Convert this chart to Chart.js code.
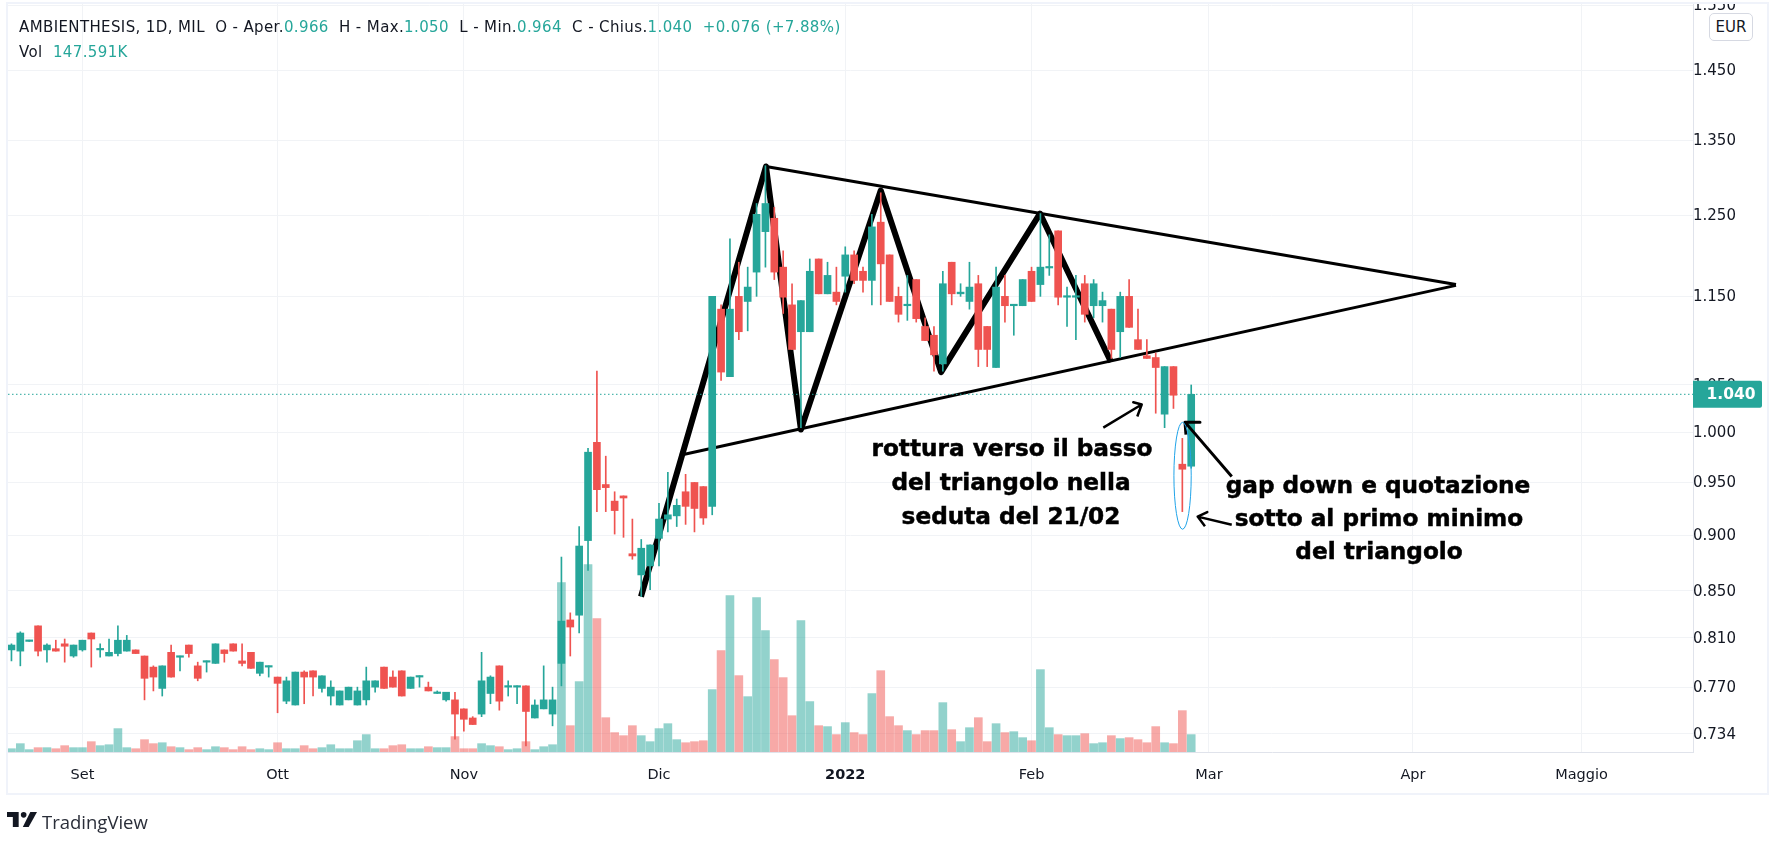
<!DOCTYPE html>
<html>
<head>
<meta charset="utf-8">
<title>AMBIENTHESIS</title>
<script src="https://cdn.jsdelivr.net/npm/chart.js@4/dist/chart.umd.min.js"></script>
<style>
  html, body { margin: 0; padding: 0; background: #fff; }
  #wrap { position: relative; width: 1790px; height: 844px; overflow: hidden; }
  canvas { position: absolute; left: 0; top: 0; }
  #topStrip { position: absolute; left: 0; top: 0; width: 1790px; height: 2px; background: #fff; }
  #frame { position: absolute; left: 6px; top: 2px; width: 1763px; height: 793px; box-sizing: border-box; border: 2px solid #f0f3fa; }
  .legend { position: absolute; left: 19px; font: 15px "DejaVu Sans", sans-serif; letter-spacing: 0.38px; color: #131722; white-space: pre; }
  .legend b { font-weight: 400; color: #26a69a; }
  #eur { position: absolute; left: 1709px; top: 13px; width: 44px; height: 28px; box-sizing: border-box; border: 1px solid #d6d9e2; border-radius: 5px; background: #fff;
         font: 15px "DejaVu Sans", sans-serif; color: #131722; text-align: center; line-height: 26px; }
  .note { position: absolute; transform: translate(-50%, -50%); font: bold 23.2px "DejaVu Sans", sans-serif; color: #000; white-space: nowrap; -webkit-text-stroke: 0.5px #000; }
  #logo { position: absolute; left: 7px; top: 812px; }
  #brand { position: absolute; left: 42px; top: 809px; font: 18.5px "Open Sans", sans-serif; color: #2a2e39; }
</style>
</head>
<body>
<div id="wrap">
  <canvas id="chart" width="1790" height="844"></canvas>
  <div id="topStrip"></div>
  <div id="frame"></div>
  <div class="legend" style="top:18px">AMBIENTHESIS, 1D, MIL  O - Aper.<b>0.966</b>  H - Max.<b>1.050</b>  L - Min.<b>0.964</b>  C - Chius.<b>1.040</b>  <b>+0.076 (+7.88%)</b></div>
  <div class="legend" style="top:43px">Vol  <b>147.591K</b></div>
  <div id="eur">EUR</div>
  <div class="note" style="left:1012px;top:447px">rottura verso il basso</div>
  <div class="note" style="left:1011px;top:481px">del triangolo nella</div>
  <div class="note" style="left:1011px;top:515px">seduta del 21/02</div>
  <div class="note" style="left:1378px;top:484px">gap down e quotazione</div>
  <div class="note" style="left:1379px;top:517px">sotto al primo minimo</div>
  <div class="note" style="left:1379px;top:550px">del triangolo</div>
  <svg id="logo" width="30" height="15" viewBox="0 0 36 18"><path d="M14 0H0v6h7v12h7z" fill="#131722"/><circle cx="20" cy="3.4" r="3.4" fill="#131722"/><path d="M26 18h-7L28 0h8z" fill="#131722"/></svg>
  <div id="brand">TradingView</div>
</div>
<script>
const opens = [
  0.800, 0.799, 0.807, 0.820, 0.800, 0.801, 0.805, 0.795, 0.800, 0.814,
  0.800, 0.795, 0.797, 0.799, 0.800, 0.795, 0.786, 0.769, 0.798, 0.794,
  0.804, 0.787, 0.790, 0.789, 0.800, 0.805, 0.791, 0.798, 0.781, 0.786,
  0.778, 0.759, 0.756, 0.782, 0.783, 0.769, 0.763, 0.756, 0.760, 0.756,
  0.760, 0.770, 0.786, 0.778, 0.783, 0.769, 0.778, 0.770, 0.765, 0.760,
  0.760, 0.753, 0.746, 0.749, 0.765, 0.787, 0.770, 0.770, 0.771, 0.746,
  0.753, 0.749, 0.789, 0.825, 0.829, 0.895, 0.990, 0.948, 0.932, 0.937,
  0.883, 0.864, 0.872, 0.897, 0.915, 0.918, 0.941, 0.950, 0.946, 0.927,
  1.135, 1.059, 1.150, 1.144, 1.179, 1.229, 1.246, 1.185, 1.140, 1.109,
  1.109, 1.195, 1.153, 1.155, 1.174, 1.200, 1.180, 1.169, 1.241, 1.200,
  1.150, 1.139, 1.170, 1.115, 1.105, 1.073, 1.191, 1.153, 1.144, 1.165,
  1.115, 1.069, 1.150, 1.139, 1.139, 1.180, 1.164, 1.184, 1.230, 1.149,
  1.149, 1.165, 1.139, 1.139, 1.135, 1.109, 1.150, 1.100, 1.082, 1.080,
  1.019, 1.070, 0.968, 0.966
];
const highs = [
  0.805, 0.815, 0.808, 0.820, 0.805, 0.808, 0.809, 0.804, 0.808, 0.814,
  0.805, 0.809, 0.820, 0.812, 0.800, 0.795, 0.787, 0.787, 0.804, 0.795,
  0.804, 0.790, 0.791, 0.805, 0.800, 0.805, 0.805, 0.798, 0.790, 0.787,
  0.778, 0.778, 0.782, 0.783, 0.783, 0.779, 0.775, 0.767, 0.770, 0.770,
  0.786, 0.775, 0.786, 0.783, 0.783, 0.778, 0.779, 0.774, 0.767, 0.766,
  0.766, 0.753, 0.747, 0.798, 0.779, 0.787, 0.775, 0.771, 0.771, 0.760,
  0.787, 0.770, 0.880, 0.831, 0.908, 0.984, 1.065, 0.976, 0.941, 0.937,
  0.915, 0.896, 0.891, 0.930, 0.960, 0.934, 0.958, 0.950, 0.946, 1.150,
  1.140, 1.220, 1.191, 1.185, 1.265, 1.315, 1.260, 1.205, 1.165, 1.145,
  1.195, 1.195, 1.191, 1.185, 1.210, 1.205, 1.185, 1.251, 1.279, 1.200,
  1.161, 1.175, 1.170, 1.125, 1.115, 1.180, 1.191, 1.165, 1.191, 1.175,
  1.115, 1.185, 1.175, 1.140, 1.170, 1.185, 1.252, 1.225, 1.230, 1.161,
  1.175, 1.175, 1.170, 1.155, 1.135, 1.155, 1.170, 1.135, 1.100, 1.085,
  1.070, 1.070, 0.994, 1.050
];
const lows = [
  0.791, 0.787, 0.807, 0.795, 0.790, 0.799, 0.790, 0.794, 0.799, 0.786,
  0.794, 0.795, 0.795, 0.799, 0.797, 0.760, 0.767, 0.763, 0.778, 0.783,
  0.794, 0.775, 0.782, 0.789, 0.790, 0.799, 0.787, 0.785, 0.779, 0.778,
  0.750, 0.757, 0.756, 0.757, 0.763, 0.766, 0.756, 0.756, 0.760, 0.756,
  0.756, 0.766, 0.769, 0.770, 0.763, 0.769, 0.770, 0.767, 0.765, 0.759,
  0.730, 0.736, 0.741, 0.747, 0.757, 0.752, 0.763, 0.757, 0.725, 0.746,
  0.753, 0.740, 0.771, 0.795, 0.814, 0.868, 0.922, 0.922, 0.901, 0.898,
  0.878, 0.845, 0.851, 0.872, 0.903, 0.908, 0.910, 0.903, 0.910, 0.919,
  1.055, 1.059, 1.100, 1.110, 1.150, 1.185, 1.170, 1.130, 1.089, 1.005,
  1.109, 1.153, 1.153, 1.140, 1.155, 1.165, 1.155, 1.140, 1.140, 1.144,
  1.120, 1.122, 1.120, 1.099, 1.065, 1.065, 1.140, 1.150, 1.135, 1.070,
  1.070, 1.069, 1.120, 1.105, 1.139, 1.144, 1.150, 1.175, 1.140, 1.115,
  1.100, 1.120, 1.125, 1.120, 1.079, 1.080, 1.114, 1.089, 1.079, 1.020,
  1.005, 1.025, 0.922, 0.964
];
const closes = [
  0.804, 0.814, 0.808, 0.799, 0.804, 0.799, 0.803, 0.804, 0.808, 0.809,
  0.801, 0.798, 0.808, 0.808, 0.797, 0.777, 0.778, 0.787, 0.778, 0.795,
  0.797, 0.777, 0.791, 0.805, 0.797, 0.799, 0.789, 0.785, 0.790, 0.787,
  0.773, 0.775, 0.782, 0.778, 0.778, 0.779, 0.770, 0.767, 0.770, 0.767,
  0.775, 0.775, 0.769, 0.770, 0.763, 0.778, 0.779, 0.767, 0.766, 0.766,
  0.749, 0.745, 0.741, 0.775, 0.778, 0.759, 0.771, 0.771, 0.751, 0.756,
  0.760, 0.760, 0.824, 0.819, 0.890, 0.980, 0.943, 0.945, 0.923, 0.935,
  0.881, 0.888, 0.891, 0.915, 0.919, 0.928, 0.927, 0.925, 0.916, 1.150,
  1.064, 1.135, 1.109, 1.161, 1.251, 1.265, 1.179, 1.149, 1.089, 1.145,
  1.180, 1.153, 1.175, 1.144, 1.200, 1.169, 1.169, 1.235, 1.189, 1.144,
  1.129, 1.140, 1.124, 1.099, 1.083, 1.165, 1.153, 1.155, 1.161, 1.089,
  1.089, 1.161, 1.139, 1.140, 1.170, 1.144, 1.185, 1.185, 1.149, 1.150,
  1.150, 1.129, 1.165, 1.145, 1.089, 1.150, 1.114, 1.089, 1.079, 1.069,
  1.070, 1.039, 0.963, 1.040
];
// volumes in thousands of shares
const volumes = [
  28, 71, 20, 37, 37, 28, 54, 37, 37, 88,
  54, 62, 199, 37, 28, 105, 71, 79, 45, 37,
  20, 37, 20, 45, 37, 20, 45, 20, 28, 20,
  79, 28, 28, 54, 28, 37, 62, 28, 28, 96,
  148, 28, 28, 54, 62, 28, 28, 45, 37, 37,
  131, 28, 28, 71, 54, 45, 20, 28, 88, 20,
  45, 62, 1442, 224, 599, 1595, 1135, 292, 165, 139,
  224, 139, 88, 199, 241, 105, 79, 88, 96, 531,
  863, 1331, 650, 471, 1314, 1033, 786, 633, 309, 1118,
  429, 224, 216, 148, 250, 165, 148, 497, 692, 301,
  224, 182, 148, 182, 182, 420, 190, 88, 207, 292,
  88, 241, 165, 173, 122, 96, 701, 207, 148, 139,
  139, 156, 71, 79, 139, 114, 122, 105, 79, 216,
  79, 71, 352, 148
];

const priceTicks = [1.55, 1.45, 1.35, 1.25, 1.15, 1.05, 1.0, 0.95, 0.9, 0.85, 0.81, 0.77, 0.734];
const timeTickIndex = [8, 30, 51, 73, 94, 115, 135, 158, 177];
const timeTickLabels = ["Set", "Ott", "Nov", "Dic", "2022", "Feb", "Mar", "Apr", "Maggio"];

// drawn trend lines, session index and price
const zigzagX = [70.97, 85.06, 89.0, 98.0, 104.8, 115.95, 123.96];
const zigzagY = [0.845, 1.314, 1.003, 1.282, 1.064, 1.252, 1.075];
const topLineX = [85.06, 162.85];
const topLineY = [1.314, 1.164];
const bottomLineX = [75.37, 162.85];
const bottomLineY = [0.977, 1.163];

// arrows: tail, tip, head, tip, head
const arrow1X = [123.09, 127.42, 126.47, 127.42, 126.92];
const arrow1Y = [1.005, 1.0292, 1.0316, 1.0292, 1.0166];
const arrow2X = [137.57, 132.3, 133.99, 132.3, 132.41];
const arrow2Y = [0.9558, 1.0107, 1.0107, 1.0107, 0.9979];
const arrow3X = [137.57, 133.73, 134.81, 133.73, 134.55];
const arrow3Y = [0.9096, 0.9173, 0.9216, 0.9173, 0.9083];

// blue ellipse around the gap candle
const ellipseX = [131.05, 133.0];
const ellipseY = [1.0105, 0.9055];

const TEAL = "#26a69a";
const RED = "#ef5350";
const xMin = -0.39;
const xMax = 189.57;
const lastClose = closes[closes.length - 1];

function isUp(i) {
  return closes[i] >= opens[i];
}

function toPoints(xs, ys) {
  return xs.map((x, i) => ({ x: x, y: ys[i] }));
}

function lineSet(xs, ys, width, order, extra) {
  return Object.assign({
    type: "line",
    data: toPoints(xs, ys),
    yAxisID: "y",
    borderColor: "#000",
    borderWidth: width,
    borderJoinStyle: "round",
    pointRadius: 0,
    tension: 0,
    order: order,
  }, extra || {});
}

const lastPricePlugin = {
  id: "lastPrice",
  afterDraw(chart) {
    const c = chart.ctx;
    const y = chart.scales.y.getPixelForValue(lastClose);
    c.save();
    c.fillStyle = TEAL;
    c.beginPath();
    c.roundRect(1693, y - 13.5, 69, 27, [0, 2, 2, 0]);
    c.fill();
    c.fillStyle = "#fff";
    c.font = "bold 15.5px 'DejaVu Sans'";
    c.textAlign = "center";
    c.textBaseline = "middle";
    c.fillText(lastClose.toFixed(3), 1731, y + 0.5);
    c.restore();
  },
};

const ellipsePlugin = {
  id: "gapEllipse",
  afterDatasetsDraw(chart) {
    const { x, y } = chart.scales;
    const left = x.getPixelForValue(ellipseX[0]);
    const right = x.getPixelForValue(ellipseX[1]);
    const top = y.getPixelForValue(ellipseY[0]);
    const bottom = y.getPixelForValue(ellipseY[1]);
    const c = chart.ctx;
    c.save();
    c.strokeStyle = "#1fa3e8";
    c.lineWidth = 1;
    c.beginPath();
    c.ellipse((left + right) / 2, (top + bottom) / 2, (right - left) / 2, (bottom - top) / 2, 0, 0, Math.PI * 2);
    c.stroke();
    c.restore();
  },
};

function initChart() {
  const ctx = document.getElementById("chart");

  new Chart(ctx, {
    type: "bar",
    plugins: [ellipsePlugin, lastPricePlugin],
    data: {
      datasets: [
        {
          data: volumes.map((v, i) => ({ x: i, y: v })),
          yAxisID: "yVol",
          backgroundColor: volumes.map((v, i) => (isUp(i) ? "rgba(38,166,154,0.5)" : "rgba(239,83,80,0.5)")),
          barThickness: 8,
          grouped: false,
          order: 50,
        },
        lineSet(zigzagX, zigzagY, 6, 40),
        lineSet(topLineX, topLineY, 3, 40),
        lineSet(bottomLineX, bottomLineY, 3, 40),
        lineSet([xMin, xMax], [lastClose, lastClose], 1, 35, { borderColor: TEAL, borderDash: [1.5, 2.5] }),
        {
          data: highs.map((h, i) => ({ x: i, y: [lows[i], h] })),
          yAxisID: "y",
          backgroundColor: highs.map((h, i) => (isUp(i) ? TEAL : RED)),
          barThickness: 1,
          grouped: false,
          order: 30,
        },
        {
          data: opens.map((o, i) => ({ x: i, y: [o, closes[i]] })),
          yAxisID: "y",
          backgroundColor: opens.map((o, i) => (isUp(i) ? TEAL : RED)),
          barThickness: 7,
          grouped: false,
          minBarLength: 1.5,
          order: 20,
        },
        lineSet(arrow1X, arrow1Y, 2.5, 10),
        lineSet(arrow2X, arrow2Y, 3, 10),
        lineSet(arrow3X, arrow3Y, 2.5, 10),
      ],
    },
    options: {
      responsive: false,
      animation: false,
      devicePixelRatio: 1,
      layout: { padding: { left: 8, top: 4, right: 21, bottom: 51 } },
      plugins: { legend: { display: false }, tooltip: { enabled: false } },
      scales: {
        x: {
          type: "linear",
          min: xMin,
          max: xMax,
          bounds: "data",
          offset: false,
          afterBuildTicks(scale) {
            scale.ticks = timeTickIndex.map((v) => ({ value: v }));
          },
          afterFit(scale) {
            scale.height = 41;
            scale.paddingLeft = 0;
            scale.paddingRight = 0;
          },
          grid: { color: "#f1f3f6", drawTicks: false, offset: false },
          border: { color: "#e0e3eb" },
          ticks: {
            autoSkip: false,
            maxRotation: 0,
            padding: 15,
            color: "#131722",
            font: (c) => ({ family: "'DejaVu Sans'", size: 14.5, weight: c.tick && c.tick.value === 94 ? "bold" : "normal" }),
            callback: (v) => timeTickLabels[timeTickIndex.indexOf(v)],
          },
        },
        y: {
          type: "logarithmic",
          position: "right",
          min: 0.7204,
          max: 1.5525,
          bounds: "data",
          afterBuildTicks(scale) {
            scale.ticks = priceTicks.map((v) => ({ value: v }));
          },
          afterFit(scale) {
            scale.width = 76;
            scale.paddingTop = 0;
            scale.paddingBottom = 0;
          },
          grid: { color: "#f1f3f6", drawTicks: false },
          border: { color: "#e0e3eb" },
          ticks: {
            autoSkip: false,
            padding: 0,
            labelOffset: 1,
            crossAlign: "center",
            color: "#131722",
            font: { family: "'DejaVu Sans'", size: 15 },
            callback: (v) => v.toFixed(3),
          },
        },
        yVol: {
          type: "linear",
          display: false,
          min: 0,
          max: 6366,
        },
      },
    },
  });
}

initChart();
</script>
</body>
</html>
